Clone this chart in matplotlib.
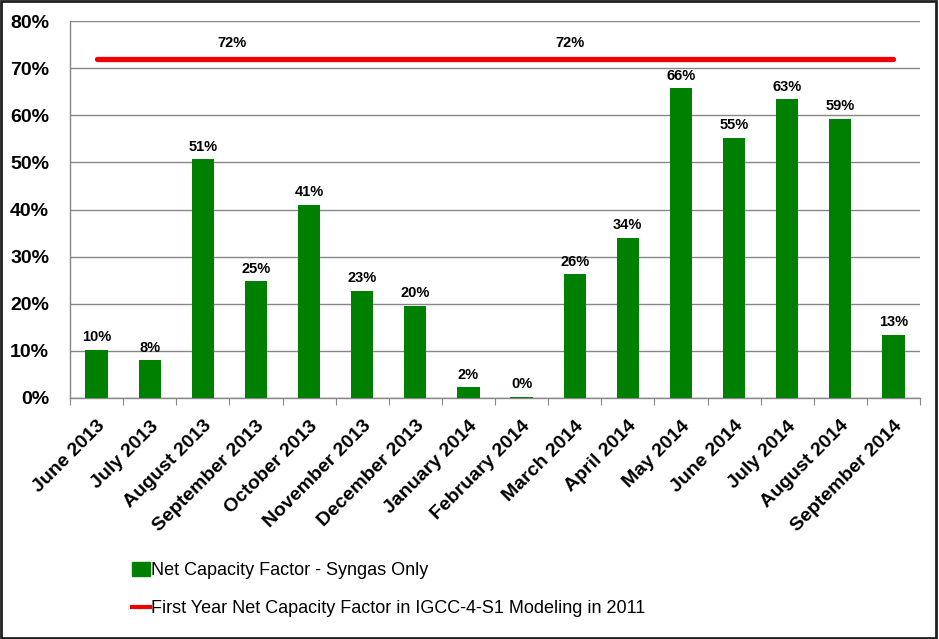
import matplotlib
matplotlib.use('Agg')
import matplotlib.pyplot as plt
import matplotlib.lines as mlines
import matplotlib.patches as mpatches
import numpy as np

months = ['June 2013', 'July 2013', 'August 2013', 'September 2013', 'October 2013',
          'November 2013', 'December 2013', 'January 2014', 'February 2014', 'March 2014',
          'April 2014', 'May 2014', 'June 2014', 'July 2014', 'August 2014', 'September 2014']
capacity = [10.2, 8.0, 50.7, 24.8, 41.0, 22.7, 19.6, 2.3, 0.3, 26.3, 34.0, 65.7, 55.2, 63.4, 59.3, 13.4]
target = [72.0] * len(months)
target_label_x = [2.54, 8.91]

bar_label = 'Net Capacity Factor - Syngas Only'
line_label = 'First Year Net Capacity Factor in IGCC-4-S1 Modeling in 2011'

plt.rcParams['font.family'] = ['Liberation Sans', 'DejaVu Sans']

fig = plt.figure(figsize=(9.39, 6.39), dpi=100)
ax = fig.add_axes([70 / 939, 1 - 398 / 639, 850 / 939, 377 / 639])

x = np.arange(len(months))
ax.bar(x, capacity, width=0.42, color='#008000', zorder=3)
ax.plot(x, target, color='#f00000', lw=3.8, solid_capstyle='round', zorder=4)

# Value labels on bars
for xi, v in zip(x, capacity):
    ax.annotate('%d%%' % round(v), (xi, v), xytext=(0, 4), textcoords='offset points',
                ha='center', va='bottom', fontsize=10.5, fontweight='bold', zorder=5)

for tx in target_label_x:
    ax.annotate('%d%%' % target[0], (tx, target[0]), xytext=(0, 6), textcoords='offset points',
                ha='center', va='bottom', fontsize=10.5, fontweight='bold')

ax.set_xlim(-0.5, len(months) - 0.5)
ax.set_ylim(0, 80)
ax.set_yticks(np.arange(0, 81, 10))
ax.set_yticklabels(['%d%%' % t for t in range(0, 81, 10)], fontsize=14, fontweight='bold')
ax.tick_params(axis='y', length=0, pad=15)

# Category ticks between bars, labels at centers
ax.set_xticks(np.arange(-0.5, len(months), 1))
ax.set_xticklabels([])
ax.set_xticks(x, minor=True)
ax.set_xticklabels(months, minor=True, rotation=45, ha='right', va='top',
                   rotation_mode='anchor', fontsize=14, fontweight='bold')
ax.tick_params(axis='x', which='major', length=5, color='#868686', direction='out')
ax.tick_params(axis='x', which='minor', length=0, pad=14)

ax.set_axisbelow(True)
ax.yaxis.grid(True, color='#868686', lw=1)
for s in ['top', 'right']:
    ax.spines[s].set_visible(False)
for s in ['left', 'bottom']:
    ax.spines[s].set_color('#868686')
    ax.spines[s].set_linewidth(1)

# Legend below the chart
lh = [mpatches.Patch(color='#008000', label=bar_label),
      mlines.Line2D([], [], color='#f00000', lw=3, label=line_label)]
fig.legend(handles=lh, loc='upper left', bbox_to_anchor=(116 / 939, 1 - 546 / 639),
           frameon=False, handlelength=1.0, handleheight=0.75, handletextpad=0.05,
           labelspacing=1.15, prop={'size': 13})

# Outer frame
fig.patches.append(mpatches.Rectangle((0.001, 0.002), 0.996, 0.996, transform=fig.transFigure,
                                      fill=False, edgecolor='#202020', lw=2))

fig.savefig('out.png', dpi=100)
